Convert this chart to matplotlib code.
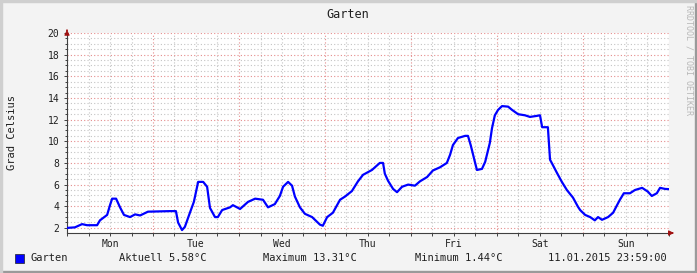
import matplotlib
matplotlib.use("Agg")
import matplotlib.pyplot as plt
from matplotlib.patches import Rectangle
from matplotlib.ticker import MultipleLocator, FixedLocator

# hours since Monday 00:00 and temperature
hours = [0.0, 2.2, 4.2, 5.6, 8.4, 9.2, 11.2, 12.0, 12.6, 13.7, 14.8, 15.9, 17.6, 19.0,
         20.4, 22.6, 28.7, 30.4, 31.0, 32.1, 32.9, 34.3, 35.4, 36.6, 38.0, 39.1, 39.9,
         41.3, 42.1, 43.3, 45.5, 46.3, 48.3, 50.5, 52.5, 54.7, 56.1, 58.0, 59.4, 60.3,
         61.7, 62.8, 63.6, 65.0, 66.4, 68.4, 70.6, 71.4, 72.6, 74.2, 76.2, 77.6, 79.5,
         81.2, 82.6, 85.1, 87.3, 88.2, 88.7, 89.6, 91.0, 92.1, 93.5, 95.2, 97.1, 98.5,
         100.5, 102.1, 104.1, 106.0, 106.9, 107.7, 109.1, 111.1, 111.9, 112.7, 113.9,
         114.4, 115.8, 116.7, 118.0, 118.6, 119.4, 120.3, 121.4, 123.1, 124.2, 125.9,
         127.8, 129.2, 131.2, 132.0, 132.6, 134.2, 134.8, 135.6, 136.7, 138.1, 139.5,
         141.2, 142.6, 143.2, 144.6, 146.0, 147.3, 148.2, 149.3, 151.0, 152.4, 153.5,
         154.3, 155.4, 157.1, 158.5, 160.5, 162.1, 163.2, 164.6, 165.5, 166.9, 168.0]
temps = [2.0, 2.05, 2.35, 2.25, 2.25, 2.7, 3.2, 4.1, 4.7, 4.7, 3.9, 3.2, 3.0, 3.25,
         3.15, 3.5, 3.55, 3.55, 2.5, 1.8, 2.1, 3.4, 4.4, 6.25, 6.25, 5.8, 3.85,
         3.0, 3.0, 3.65, 3.9, 4.1, 3.75, 4.4, 4.7, 4.6, 3.9, 4.2, 4.95, 5.8,
         6.25, 5.9, 4.9, 3.9, 3.3, 3.0, 2.3, 2.2, 3.0, 3.4, 4.6, 4.9, 5.4,
         6.3, 6.9, 7.35, 8.0, 8.0, 7.0, 6.35, 5.6, 5.3, 5.8, 6.0, 5.9, 6.3,
         6.7, 7.3, 7.6, 8.0, 8.75, 9.65, 10.3, 10.5, 10.5, 9.6, 8.0,
         7.35, 7.45, 8.1, 9.85, 11.2, 12.4, 12.9, 13.25, 13.2, 12.9, 12.5,
         12.4, 12.25, 12.35, 12.4, 11.3, 11.3, 8.3, 7.8, 7.1, 6.25, 5.5,
         4.8, 3.95, 3.65, 3.2, 3.0, 2.7, 3.0, 2.75, 3.0, 3.4, 4.1,
         4.6, 5.2, 5.2, 5.5, 5.7, 5.35, 4.95, 5.2, 5.7, 5.6, 5.58]
days = ["Mon", "Tue", "Wed", "Thu", "Fri", "Sat", "Sun"]
legend_items = ["Aktuell 5.58°C", "Maximum 13.31°C", "Minimum 1.44°C", "11.01.2015 23:59:00"]

W, H = 697, 273
mono = "DejaVu Sans Mono"
fig = plt.figure(figsize=(W / 100, H / 100), dpi=100)
fig.patch.set_facecolor("#f3f3f3")

# rrdtool-like frame
fig.patches.append(Rectangle((0, 0), 1, 2 / H, transform=fig.transFigure, color="#9a9a9a", zorder=0))
fig.patches.append(Rectangle((1 - 2 / W, 0), 2 / W, 1, transform=fig.transFigure, color="#9a9a9a", zorder=0))
fig.patches.append(Rectangle((0, 1 - 2 / H), 1, 2 / H, transform=fig.transFigure, color="#cfcfcf", zorder=0))
fig.patches.append(Rectangle((0, 0), 2 / W, 1, transform=fig.transFigure, color="#cfcfcf", zorder=0))

x0, x1, ytop, ybot = 67, 669, 33, 233
ax = fig.add_axes([x0 / W, (H - ybot) / H, (x1 - x0) / W, (ybot - ytop) / H])
ax.set_facecolor("white")
ax.set_xlim(0, 168)
ax.set_ylim(1.53, 20)

# grid
ax.xaxis.set_major_locator(FixedLocator(range(0, 169, 24)))
ax.xaxis.set_minor_locator(MultipleLocator(6))
ax.yaxis.set_major_locator(MultipleLocator(2))
ax.yaxis.set_minor_locator(MultipleLocator(0.5))
ax.grid(which="minor", color="#c4c4c4", linestyle=(0, (1, 2)), linewidth=0.8)
ax.grid(which="major", color="#e58c8c", linestyle=(0, (1, 2)), linewidth=0.8)
ax.set_axisbelow(True)

ax.plot(hours, temps, color="#0000ff", linewidth=1.6, zorder=3)

for s in ["top", "right"]:
    ax.spines[s].set_visible(False)
for s in ["left", "bottom"]:
    ax.spines[s].set_color("#404040")
    ax.spines[s].set_linewidth(0.8)

ax.set_xticklabels([])
ax.tick_params(axis="x", which="both", length=2.5, color="#404040", width=0.7)
ax.tick_params(axis="y", which="major", length=2.5, color="#404040", width=0.7,
               labelsize=7, labelcolor="#202020", pad=3)
ax.tick_params(axis="y", which="minor", length=1.5, color="#404040", width=0.7)
for lab in ax.get_yticklabels():
    lab.set_family(mono)
for i, d in enumerate(days):
    ax.text(12 + 24 * i, -0.03, d, transform=ax.get_xaxis_transform(), ha="center", va="top",
            fontsize=7, family=mono, color="#202020")

# arrows at axis ends
ax.annotate("", xy=(x0 / W, (H - ytop + 6) / H), xytext=(x0 / W, (H - ytop) / H),
            xycoords="figure fraction", arrowprops=dict(arrowstyle="-|>,head_width=0.15,head_length=0.3",
                                                        color="#a01010", lw=0.8))
ax.annotate("", xy=((x1 + 5) / W, (H - ybot) / H), xytext=(x1 / W, (H - ybot) / H),
            xycoords="figure fraction", arrowprops=dict(arrowstyle="-|>,head_width=0.15,head_length=0.3",
                                                        color="#a01010", lw=0.8))

fig.text(348 / W, 1 - 14 / H, "Garten", ha="center", va="center", fontsize=8.5, family=mono, color="#202020")
fig.text(12 / W, 1 - 133 / H, "Grad Celsius", rotation=90, ha="center", va="center",
         fontsize=7.5, family=mono, color="#202020")
fig.text(689 / W, 1 - 5 / H, "RRDTOOL / TOBI OETIKER", rotation=270, ha="center", va="top",
         fontsize=6, family=mono, color="#b8b8b8")

# legend row
ly = 1 - 258 / H
fig.patches.append(Rectangle((15 / W, (H - 263) / H), 9 / W, 9 / H, transform=fig.transFigure,
                             facecolor="#0000ff", edgecolor="#202020", linewidth=0.5))
fig.text(30 / W, ly, "Garten", ha="left", va="center", fontsize=7.5, family=mono, color="#202020")
for xpos, txt in zip([119, 263, 415, 548], legend_items):
    fig.text(xpos / W, ly, txt, ha="left", va="center", fontsize=7.5, family=mono, color="#202020")

fig.savefig("out.png", dpi=100, facecolor=fig.get_facecolor())
